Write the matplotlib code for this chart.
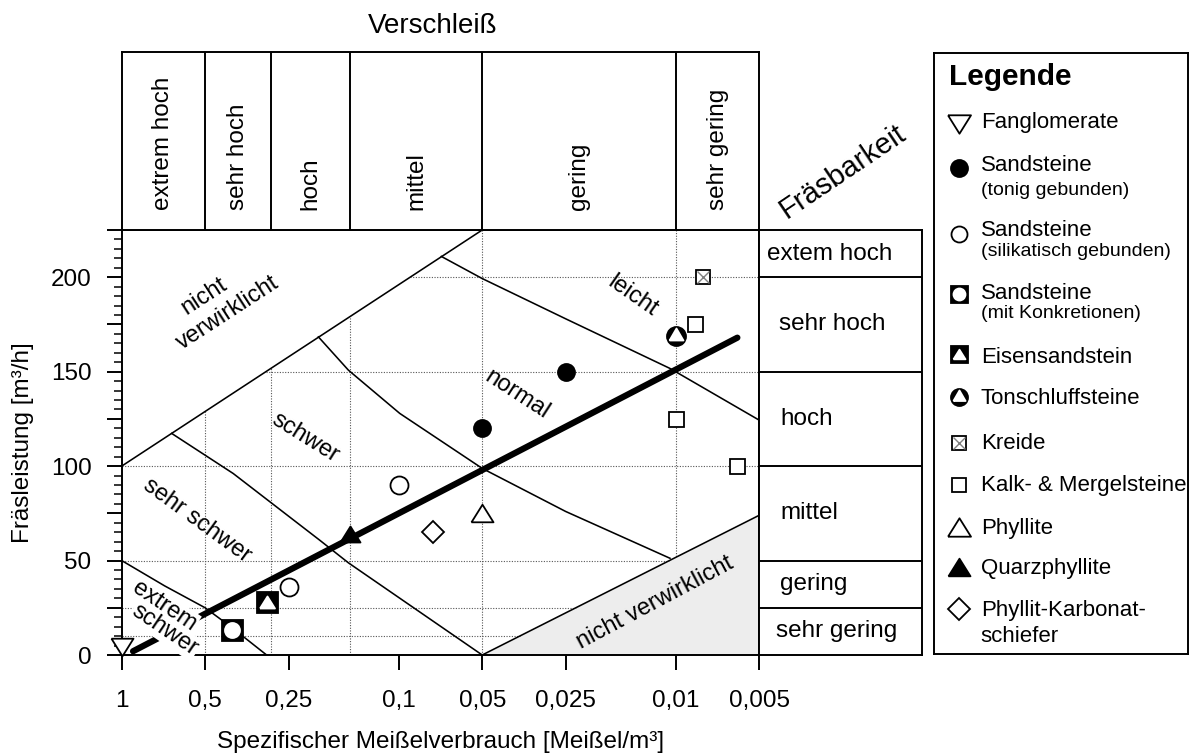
import numpy as np
import matplotlib
matplotlib.use("Agg")
import matplotlib.pyplot as plt
from matplotlib.ticker import FixedLocator, NullLocator, MultipleLocator, FuncFormatter

plt.rcParams["font.family"] = ["Liberation Sans", "DejaVu Sans"]
plt.rcParams["axes.linewidth"] = 1.4

# ── Klassen ───────────────────────────────────────────────────────────────────
wear_edges  = [1, 0.5, 0.29, 0.15, 0.05, 0.01, 0.005]
wear_labels = ["extrem hoch", "sehr hoch", "hoch", "mittel", "gering", "sehr gering"]

mill_edges  = [0, 25, 50, 100, 150, 200, 225]
mill_labels = ["sehr gering", "gering", "mittel", "hoch", "sehr hoch", "extem hoch"]

x_ticks      = [1, 0.5, 0.25, 0.1, 0.05, 0.025, 0.01, 0.005]
x_ticklabels = ["1", "0,5", "0,25", "0,1", "0,05", "0,025", "0,01", "0,005"]
grid_x = [0.5, 0.29, 0.15, 0.05, 0.01]
grid_y = [10, 25, 50, 100, 150, 200]

# ── Feldgrenzen (Meißel/m³, m³/h) ─────────────────────────────────────────────
top_x, top_y = [1, 0.05], [100, 225]                  # nicht verwirklicht (oben)
bot_x, bot_y = [0.05, 0.005], [0, 74]                 # nicht verwirklicht (unten)
ext_x = [1, 0.7, 0.5, 0.4, 0.3]
ext_y = [50, 36.6, 25, 14.5, 0]                       # extrem schwer / sehr schwer
ssw_x = [0.66, 0.396, 0.193, 0.152, 0.05]
ssw_y = [117.3, 96.1, 60.8, 48.8, 0]                  # sehr schwer / schwer
sw_x = [0.195, 0.152, 0.0992, 0.05, 0.025, 0.0105]
sw_y = [168.4, 150.8, 127.9, 98.8, 76, 51.2]          # schwer / normal
nl_x = [0.0702, 0.05, 0.025, 0.0105, 0.005]
nl_y = [211, 199.3, 178, 151.7, 124.3]                # normal / leicht

reg_x, reg_y = [0.91, 0.006], [2, 168]                # Ausgleichsgerade

# ── Messpunkte ────────────────────────────────────────────────────────────────
fang_x, fang_y = [1], [4.5]
sst_x, sst_y = [0.05, 0.025], [120, 150]
sss_x, sss_y = [0.1, 0.25], [90, 36]
ssk_x, ssk_y = [0.4], [13]
eis_x, eis_y = [0.3], [28]
ton_x, ton_y = [0.01], [169]
kre_x, kre_y = [0.008], [200]
kal_x, kal_y = [0.0085, 0.01, 0.006], [175, 125, 100]
phy_x, phy_y = [0.05], [75]
qph_x, qph_y = [0.15], [64]
pks_x, pks_y = [0.075], [65]

TRI_UP = [(-1, -0.8), (1, -0.8), (0, 0.8), (-1, -0.8)]
TRI_DN = [(-1, 0.8), (1, 0.8), (0, -0.8), (-1, 0.8)]
TRI_IN = [(-0.87, -0.5), (0.87, -0.5), (0, 1), (-0.87, -0.5)]

# Symbol-Lagen: (Marker, Größe Diagramm px, Größe Legende px, Füllung, Rand)
styles = {
    "fang": [(TRI_DN, 22, 23, "white", "black")],
    "sst":  [("o", 17, 17, "black", "black")],
    "sss":  [("o", 18, 16, "white", "black")],
    "ssk":  [("s", 21, 17, "black", "black"), ("o", 15, 12, "white", "white")],
    "eis":  [("s", 21, 17, "black", "black"), (TRI_UP, 15, 12, "white", "white")],
    "ton":  [("o", 19, 17, "black", "black"), (TRI_IN, 16, 14, "white", "white")],
    "kre":  [("s", 14, 14, "white", "black"), ("x", 12, 12, "none", "#808080")],
    "kal":  [("s", 15, 14, "white", "black")],
    "phy":  [(TRI_UP, 22, 23, "white", "black")],
    "qph":  [(TRI_UP, 20, 22, "black", "black")],
    "pks":  [("D", 15, 16, "white", "black")],
}


def draw_symbol(a, xs, ys, key, legend=False):
    for mk, s_plot, s_leg, fc, ec in styles[key]:
        s = (s_leg if legend else s_plot) * 0.72
        a.plot(xs, ys, ls="none", marker=mk, ms=s, mfc=fc, mec=ec,
               mew=1.0 if mk == "x" else 1.3, zorder=6, clip_on=False)


W, H = 1190, 754
fig = plt.figure(figsize=(W / 100, H / 100), dpi=100)


def box(x0, y0, x1, y1):
    return [x0 / W, 1 - y1 / H, (x1 - x0) / W, (y1 - y0) / H]


# ── Hauptdiagramm ─────────────────────────────────────────────────────────────
ax = fig.add_axes(box(121.7, 230, 759.3, 655))
ax.set_xscale("log")
ax.set_xlim(1, 0.005)
ax.set_ylim(0, 225)

ax.xaxis.set_major_locator(FixedLocator(x_ticks))
ax.xaxis.set_minor_locator(NullLocator())
ax.set_xticklabels(x_ticklabels)
ax.yaxis.set_major_locator(MultipleLocator(25))
ax.yaxis.set_minor_locator(MultipleLocator(5))
ax.yaxis.set_major_formatter(
    FuncFormatter(lambda v, p: f"{v:.0f}" if v % 50 == 0 and v <= 200 else ""))
ax.tick_params(which="major", length=10.8, width=1.4, pad=11, labelsize=17.5)
ax.tick_params(axis="x", which="major", pad=14.5)
ax.tick_params(axis="y", which="minor", length=5.8, width=1.1)

for gx in grid_x:
    ax.axvline(gx, color="#555555", lw=0.8, ls=(0, (1, 1.4)), zorder=1)
for gy in grid_y:
    ax.axhline(gy, color="#555555", lw=0.8, ls=(0, (1, 1.4)), zorder=1)

ax.fill_between(top_x, top_y, 225, color="white", lw=0, zorder=2)
ax.fill_between(bot_x, 0, bot_y, color="#ededed", lw=0, zorder=2)

for xs, ys in [(top_x, top_y), (bot_x, bot_y), (ext_x, ext_y),
               (ssw_x, ssw_y), (sw_x, sw_y), (nl_x, nl_y)]:
    ax.plot(xs, ys, color="black", lw=1.15, solid_joinstyle="round", zorder=3)

ax.plot(reg_x, reg_y, color="black", lw=4.5, solid_capstyle="round", zorder=4)

# Feldbeschriftungen
lab = dict(fontsize=17, ha="center", va="center", rotation_mode="anchor", zorder=5)
ax.text(0.505, 190, "nicht", rotation=33, **lab)
ax.text(0.4125, 181, "verwirklicht", rotation=33, **lab)
ax.text(0.217, 115, "schwer", rotation=-32, **lab)
ax.text(0.5365, 71.4, "sehr schwer", rotation=-36, **lab)
wbox = dict(boxstyle="square,pad=0.05", fc="white", ec="none")
ax.text(0.703, 26, "extrem", rotation=-34, bbox=wbox, **lab)
ax.text(0.698, 13.2, "schwer", rotation=-34, bbox=wbox, **lab)
ax.text(0.0376, 138, "normal", rotation=-33, **lab)
ax.text(0.01439, 190, "leicht", rotation=-35, **lab)
ax.text(0.01193, 27.8, "nicht verwirklicht", rotation=28, **lab)

for xs, ys, key in [(fang_x, fang_y, "fang"), (sst_x, sst_y, "sst"),
                    (sss_x, sss_y, "sss"), (ssk_x, ssk_y, "ssk"),
                    (eis_x, eis_y, "eis"), (ton_x, ton_y, "ton"),
                    (kre_x, kre_y, "kre"), (kal_x, kal_y, "kal"),
                    (phy_x, phy_y, "phy"), (qph_x, qph_y, "qph"),
                    (pks_x, pks_y, "pks")]:
    draw_symbol(ax, xs, ys, key)

ax.set_xlabel("Spezifischer Meißelverbrauch [Meißel/m³]", fontsize=17.5)
ax.xaxis.label.set_va("center")
ax.xaxis.set_label_coords(0.5, (655 - 742) / 425)
ax.set_ylabel("Fräsleistung [m³/h]", fontsize=17.5)
ax.yaxis.label.set_va("center")
ax.yaxis.set_label_coords((23 - 121.7) / 637.6, 0.5)

# ── Verschleiß-Tabelle ────────────────────────────────────────────────────────
tt = fig.add_axes(box(121.7, 52.3, 759.3, 230))
tt.set_xscale("log")
tt.set_xlim(1, 0.005)
tt.set_ylim(0, 1)
tt.xaxis.set_major_locator(NullLocator())
tt.xaxis.set_minor_locator(NullLocator())
tt.set_yticks([])
for e in wear_edges[1:-1]:
    tt.axvline(e, color="black", lw=1.4)
for lo, hi, txt in zip(wear_edges[:-1], wear_edges[1:], wear_labels):
    tt.text(np.sqrt(lo * hi), 0.11, txt, rotation=90, ha="center", va="bottom",
            fontsize=17.5)
fig.text(433 / W, 1 - 33 / H, "Verschleiß", ha="center", va="baseline", fontsize=20)

# ── Fräsbarkeits-Tabelle ──────────────────────────────────────────────────────
rt = fig.add_axes(box(759.3, 230, 921.7, 655))
rt.set_xlim(0, 162.4)
rt.set_ylim(0, 225)
rt.set_xticks([])
rt.set_yticks([])
for e in mill_edges[1:-1]:
    rt.axhline(e, color="black", lw=1.4)
row_x = [17, 21, 21, 21, 20, 7.5]
for lo, hi, txt, tx in zip(mill_edges[:-1], mill_edges[1:], mill_labels, row_x):
    rt.text(tx, (lo + hi) / 2, txt, ha="left", va="center", fontsize=17.5)
fig.text(843 / W, 1 - 172 / H, "Fräsbarkeit", rotation=34, ha="center",
         va="center", rotation_mode="anchor", fontsize=21)

# ── Legende ───────────────────────────────────────────────────────────────────
lg = fig.add_axes(box(934, 52.7, 1188, 654))
lg.set_xlim(934, 1188)
lg.set_ylim(654, 52.7)
lg.set_xticks([])
lg.set_yticks([])
lg.text(949.3, 85, "Legende", fontsize=21.5, fontweight="bold", va="baseline")

legend_rows = [
    ("fang", "Fanglomerate", None, 124, 128.3, None),
    ("sst", "Sandsteine", "(tonig gebunden)", 167.5, 171, 195),
    ("sss", "Sandsteine", "(silikatisch gebunden)", 234, 236, 256),
    ("ssk", "Sandsteine", "(mit Konkretionen)", 294, 298.7, 318.3),
    ("eis", "Eisensandstein", None, 353.6, 363, None),
    ("ton", "Tonschluffsteine", None, 396.7, 404, None),
    ("kre", "Kreide", None, 442.5, 449, None),
    ("kal", "Kalk- & Mergelsteine", None, 485, 491, None),
    ("phy", "Phyllite", None, 527, 534.3, None),
    ("qph", "Quarzphyllite", None, 566.7, 574, None),
    ("pks", "Phyllit-Karbonat-", "schiefer", 609, 615.7, 642.3),
]
for key, title, sub, my, ty, sy in legend_rows:
    draw_symbol(lg, [959.3], [my], key, legend=True)
    lg.text(980.7, ty, title, fontsize=16, va="baseline")
    if sub:
        fs = 16 if key == "pks" else 14
        lg.text(980.7, sy, sub, fontsize=fs, va="baseline")

fig.savefig("out.png", dpi=100)
